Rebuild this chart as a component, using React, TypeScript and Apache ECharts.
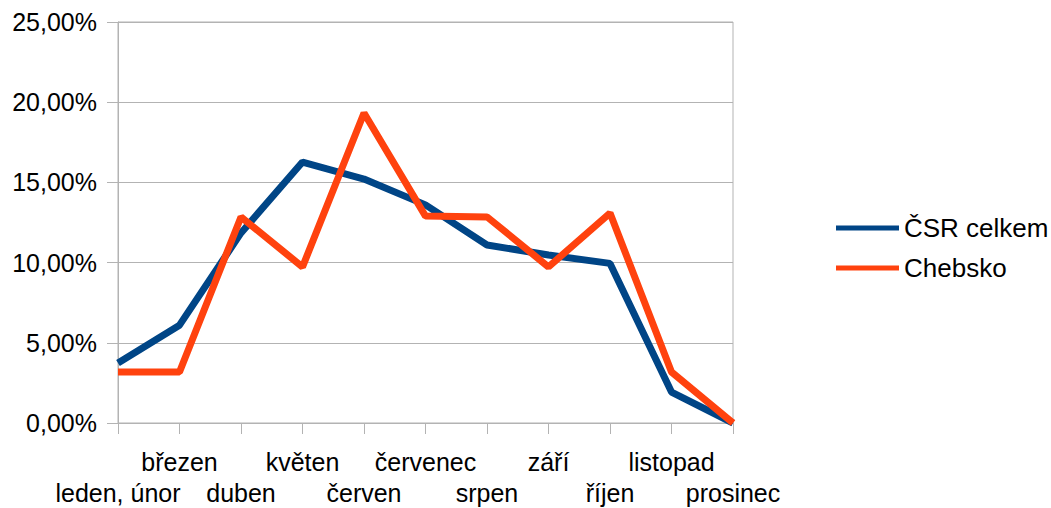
import React, { useEffect, useRef } from "react";
import * as echarts from "echarts";

const categories = [
  "leden, únor",
  "březen",
  "duben",
  "květen",
  "červen",
  "červenec",
  "srpen",
  "září",
  "říjen",
  "listopad",
  "prosinec",
];
const csrCelkem = [3.74, 6.1, 11.85, 16.27, 15.21, 13.6, 11.1, 10.47, 9.95, 1.93, 0];
const chebsko = [3.18, 3.18, 12.84, 9.73, 19.33, 12.9, 12.85, 9.73, 13.09, 3.18, 0];
const seriesNames = ["ČSR celkem", "Chebsko"];

const FONT = "Liberation Sans, Arial, sans-serif";
const GRAY = "#b3b3b3";

export default function App() {
  const ref = useRef<HTMLDivElement>(null);
  useEffect(() => {
    if (!ref.current) return;
    const chart = echarts.init(ref.current, undefined, { renderer: "svg" });
    chart.setOption({
      animation: false,
      backgroundColor: "#ffffff",
      textStyle: { fontFamily: FONT },
      grid: {
        left: 118,
        right: 318,
        top: 22,
        bottom: 85,
        containLabel: false,
        show: true,
        borderColor: GRAY,
        borderWidth: 1,
        backgroundColor: "transparent",
      },
      legend: {
        orient: "vertical",
        left: 831,
        top: 210,
        icon: "rect",
        itemWidth: 63,
        itemHeight: 5,
        itemGap: 14,
        data: seriesNames,
        textStyle: { fontSize: 26, color: "#000", fontFamily: FONT, lineHeight: 26 },
      },
      xAxis: {
        type: "category",
        data: categories,
        boundaryGap: false,
        axisLine: { lineStyle: { color: GRAY, width: 1 } },
        axisTick: { show: true, length: 11, lineStyle: { color: GRAY }, interval: 0 },
        axisLabel: {
          interval: 0,
          margin: 23,
          fontSize: 25,
          lineHeight: 31,
          color: "#000",
          fontFamily: FONT,
          verticalAlign: "top",
          formatter: (v: string, i: number) => (i % 2 === 0 ? "\n" + v : v),
        },
        splitLine: { show: false },
      },
      yAxis: {
        type: "value",
        min: 0,
        max: 25,
        interval: 5,
        axisLine: { show: true, lineStyle: { color: GRAY, width: 1 } },
        axisTick: { show: true, length: 11, lineStyle: { color: GRAY } },
        axisLabel: {
          margin: 21,
          fontSize: 25,
          color: "#000",
          fontFamily: FONT,
          formatter: (v: number) => v.toFixed(2).replace(".", ",") + "%",
        },
        splitLine: { show: true, lineStyle: { color: GRAY, width: 1 } },
      },
      series: [
        {
          name: seriesNames[0],
          type: "line",
          data: csrCelkem,
          showSymbol: false,
          symbol: "none",
          color: "#004586",
          lineStyle: { color: "#004586", width: 7 },
        },
        {
          name: seriesNames[1],
          type: "line",
          data: chebsko,
          showSymbol: false,
          symbol: "none",
          color: "#ff420e",
          lineStyle: { color: "#ff420e", width: 7 },
        },
      ],
    });
    return () => chart.dispose();
  }, []);
  return (
    <div
      ref={ref}
      style={{ position: "absolute", left: 0, top: 0, width: 1051, height: 508 }}
    />
  );
}
